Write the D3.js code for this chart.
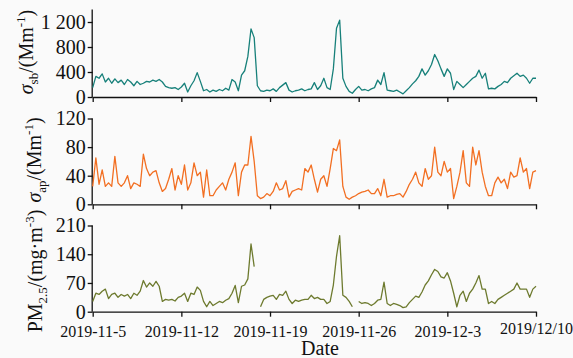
<!DOCTYPE html>
<html>
<head>
<meta charset="utf-8">
<script src="https://cdn.jsdelivr.net/npm/d3@7"></script>
<style>
  html, body { margin: 0; padding: 0; background: #fafafa; }
  svg { display: block; font-family: "Liberation Serif", "Times New Roman", serif; }
</style>
</head>
<body>
<svg id="chart" width="573" height="358"></svg>
<script>
// 6-hourly readings, 2019-11-05 00:00 .. 2019-12-10 00:00
const sigmaSb = [150,330,300,370,240,300,220,290,230,270,
  200,280,240,180,250,200,220,250,240,270,
  250,280,240,170,150,140,150,120,160,220,
  80,180,260,390,250,100,120,80,110,90,
  120,100,140,110,280,240,100,350,420,650,
  1090,950,180,100,90,110,100,130,90,150,
  190,230,110,80,100,110,130,100,120,130,
  230,120,180,300,150,120,450,1100,1230,300,
  170,90,60,120,170,110,120,100,130,150,
  270,200,390,110,100,90,110,80,50,100,
  150,210,260,330,450,350,420,520,680,580,
  450,330,450,380,120,250,200,150,200,250,
  300,330,430,300,380,130,140,130,170,200,
  250,230,300,340,380,330,350,300,220,300,
  300];

const sigmaAp = [25,65,28,48,25,30,25,67,30,25,
  30,40,22,30,28,25,70,50,40,45,
  47,30,18,22,35,50,20,40,28,55,
  20,30,58,40,45,10,48,12,12,20,
  25,30,20,35,45,58,12,45,55,55,
  95,60,12,8,10,15,12,18,30,20,
  22,33,10,18,20,22,20,50,45,55,
  35,17,35,40,25,50,78,75,90,25,
  10,7,10,12,15,17,18,20,15,15,
  22,12,35,10,12,12,14,15,10,18,
  28,35,45,30,25,50,35,40,80,45,
  40,60,45,50,8,25,45,75,30,25,
  80,55,75,45,25,12,12,30,38,30,
  35,22,45,38,40,65,45,50,22,45,
  47];

const pm25 = [25,45,42,50,55,32,42,45,35,42,
  38,42,32,45,40,50,76,60,70,62,
  74,62,25,30,28,30,26,35,38,45,
  25,45,42,60,52,25,12,25,15,20,
  25,22,28,32,45,64,22,62,65,80,
  165,110,null,12,30,35,38,40,30,42,
  40,50,30,20,28,25,28,30,30,40,
  32,35,30,30,20,25,65,135,185,40,
  35,25,12,null,25,20,22,20,15,20,
  28,30,72,20,15,20,18,15,10,12,
  22,30,38,35,48,65,75,90,103,98,
  85,82,95,75,45,12,40,50,25,45,
  55,70,88,55,55,20,25,20,30,35,
  40,45,50,55,70,55,55,55,35,55,
  62];

const tickDates = ["2019-11-05","2019-11-12","2019-11-19","2019-11-26","2019-12-03","2019-12-10"];
const tickLabels = ["2019-11-5","2019-11-12","2019-11-19","2019-11-26","2019-12-3","2019/12/10"];

const parse = d3.timeParse("%Y-%m-%d");
const start = parse("2019-11-05");
const end = parse("2019-12-10");
const dates = sigmaSb.map((_, i) => d3.timeHour.offset(start, i * 6));

const svg = d3.select("#chart");
const x = d3.scaleTime().domain([start, end]).range([92.7, 536]);

const panels = [
  {values: sigmaSb, color: "#17807a", domain: [0, 1400], ticks: [0, 400, 800, 1200], range: [97, 9.5],
   label: [["σ", "i"], ["sb", "sub"], ["/(Mm", ""], ["-1", "sup"], [")", ""]], lx: 33, ly: 52},
  {values: sigmaAp, color: "#f26f22", domain: [0, 120], ticks: [0, 40, 80, 120], range: [204.3, 118.5],
   label: [["σ", "i"], ["ap", "sub"], ["/(Mm", ""], ["-1", "sup"], [")", ""]], lx: 41, ly: 160},
  {values: pm25, color: "#6d7a2e", domain: [0, 210], ticks: [0, 70, 140, 210], range: [311.7, 225.5],
   label: [["PM", ""], ["2.5", "sub"], ["/(mg·m", ""], ["-3", "sup"], [")", ""]], lx: 42, ly: 271}
];

panels.forEach((p, k) => {
  const y = d3.scaleLinear().domain(p.domain).range(p.range);
  const g = svg.append("g");

  // y axis
  const yAxis = d3.axisLeft(y).tickValues(p.ticks).tickSize(5).tickPadding(2)
    .tickFormat(d => d >= 1000 ? d3.format(",")(d).replace(",", " ") : d);
  const ya = g.append("g").attr("transform", "translate(92.7,0)").call(yAxis);
  ya.select(".domain").attr("d", `M-0.5,${p.range[1]}V${p.range[0]}`);
  ya.selectAll("text").attr("font-size", 20).attr("font-family", "Liberation Serif").attr("fill", "#111");

  // x axis
  const xAxis = d3.axisBottom(x).tickValues(tickDates.map(parse)).tickSize(5).tickSizeOuter(0).tickPadding(8.5)
    .tickFormat((d, i) => k === 2 ? tickLabels[i] : "");
  const xa = g.append("g").attr("transform", `translate(0,${p.range[0]})`).call(xAxis);
  xa.selectAll("text").attr("font-size", 16).attr("font-family", "Liberation Serif").attr("fill", "#111")
    .attr("dy", (d, i) => i === 5 ? "0.52em" : "0.71em");
  g.selectAll(".domain, .tick line").attr("stroke", "#111").attr("stroke-width", 1.3);

  // series
  const line = d3.line()
    .defined(d => d != null)
    .x((d, i) => x(dates[i]))
    .y(d => y(d));
  g.append("path")
    .datum(p.values)
    .attr("fill", "none")
    .attr("stroke", p.color)
    .attr("stroke-width", 1.3)
    .attr("stroke-linejoin", "round")
    .attr("d", line);

  // y label
  const t = svg.append("text")
    .attr("transform", `translate(${p.lx},${p.ly}) rotate(-90)`)
    .attr("text-anchor", "middle")
    .attr("font-size", 20)
    .attr("fill", "#111");
  let shift = 0;
  p.label.forEach(([s, kind]) => {
    const ts = t.append("tspan").text(s);
    let dy = 0;
    if (kind === "sub") { ts.attr("font-size", 13); dy = 5; }
    if (kind === "sup") { ts.attr("font-size", 13); dy = -8; }
    if (kind === "i") ts.attr("font-style", "italic");
    ts.attr("dy", dy - shift);
    shift = dy;
  });
});

svg.append("text")
  .attr("x", 320).attr("y", 355)
  .attr("text-anchor", "middle")
  .attr("font-size", 20)
  .attr("fill", "#111")
  .text("Date");
</script>
</body>
</html>
